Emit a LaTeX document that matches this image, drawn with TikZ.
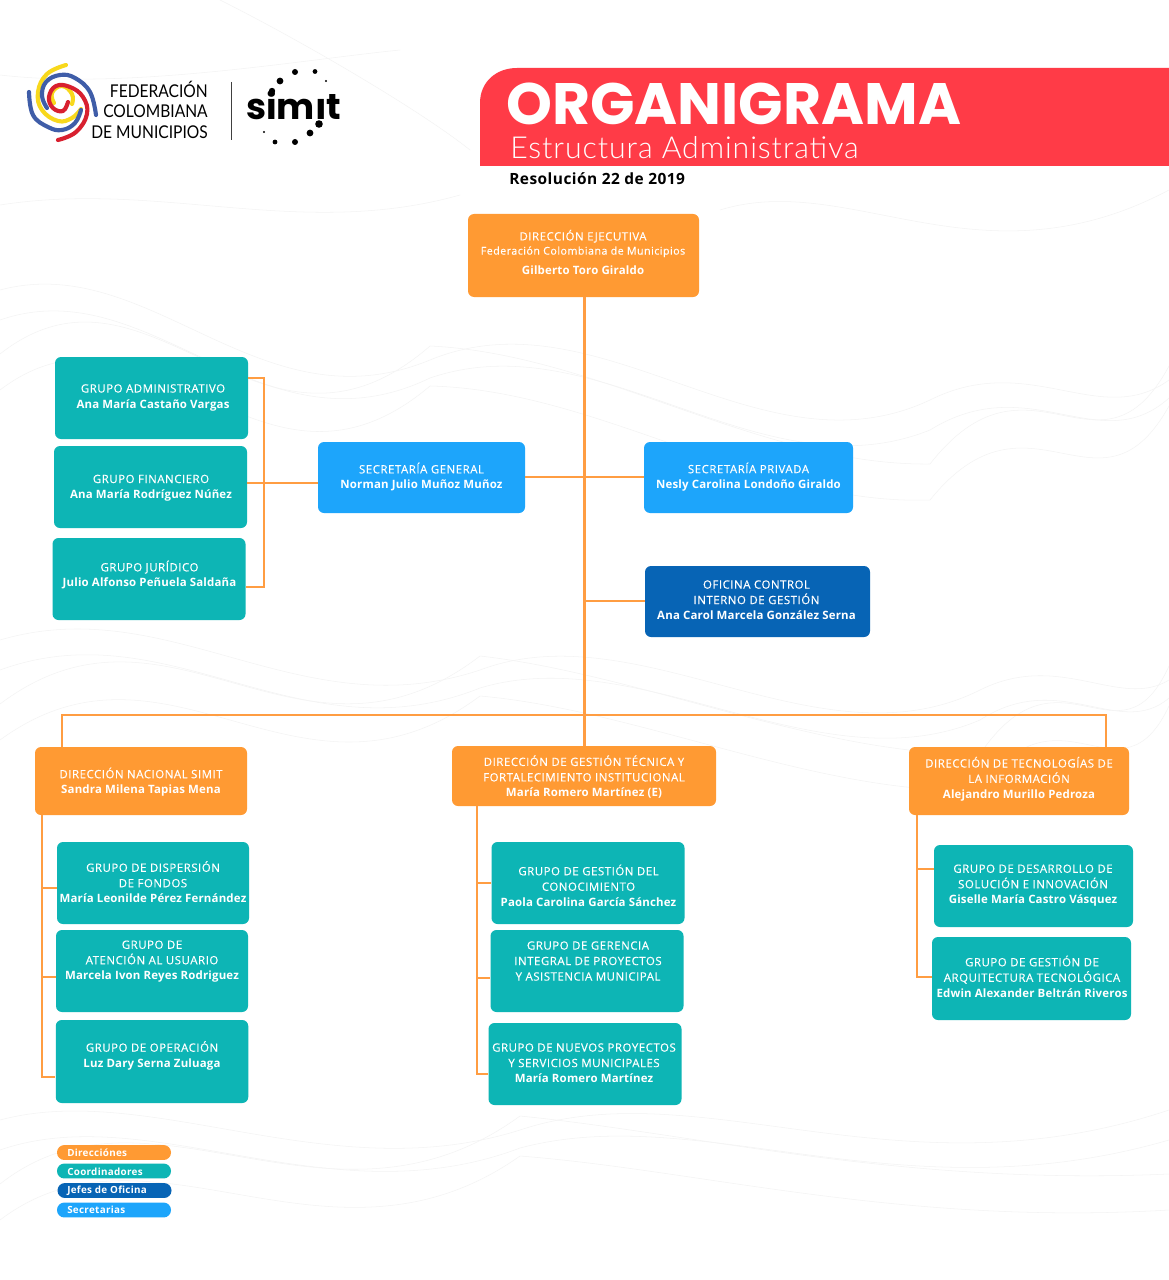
\documentclass[tikz,border=0pt]{standalone}
\usepackage{fontspec}
\setmainfont{Open Sans}[LetterSpace=3]
\newfontfamily\capfont{Open Sans}[LetterSpace=4.5,FakeBold=0.25]
\newfontfamily\namefont{Open Sans}[LetterSpace=1.5]
\newfontfamily\titlefont{Poppins}
\newfontfamily\lightfont{Lato Light}[LetterSpace=3]
\newfontfamily\logofont{Lato}[FakeStretch=0.885]
\newfontfamily\simitfont{Poppins}
\definecolor{orangeC}{HTML}{FF9A33}
\definecolor{tealC}{HTML}{0DB5B5}
\definecolor{blueC}{HTML}{1DA5FB}
\definecolor{navyC}{HTML}{0764B5}
\definecolor{redC}{HTML}{FF3B47}
\definecolor{lineC}{HTML}{FF9D42}
\definecolor{faintC}{HTML}{F4F4F4}
\definecolor{logoB}{HTML}{3F5DA8}
\definecolor{logoY}{HTML}{F8D81C}
\definecolor{logoR}{HTML}{D8202F}
\tikzset{
  boxbase/.style={rounded corners=4.5pt,inner sep=0pt,draw=none},
  orangebox/.style={boxbase,fill=orangeC},
  tealbox/.style={boxbase,fill=tealC},
  bluebox/.style={boxbase,fill=blueC},
  navybox/.style={boxbase,fill=navyC},
  boxtext/.style={text=white,align=center,font=\capfont\fontsize{8.6}{11.6}\selectfont,inner sep=0pt},
  link/.style={draw=lineC,line width=1.6pt},
  pill/.style={rounded corners=5.5pt,inner sep=0pt,minimum width=85.5pt,minimum height=11.2pt},
  pilltext/.style={anchor=west,text=white,font=\fontsize{7.4}{8}\selectfont\bfseries,inner sep=0pt},
  contour/.style={draw=faintC,line width=0.4pt},
  logoarc/.style={line width=3.1pt,line cap=round,line join=round},
  logotext/.style={anchor=east,inner sep=0pt,font=\logofont\fontsize{13.2}{15}\selectfont},
  spot/.style={circle,fill=black,inner sep=0pt}
}
\newcommand{\bx}[9]{%
  \node[#2,minimum width=#5*0.75pt,minimum height=#6*0.75pt] (#1) at (#3,#4) {};
  \node[boxtext] (#1T) at (#7,#8) {#9};
}
\newcommand{\nm}[1]{{\namefont\bfseries #1}}
\begin{document}
\begin{tikzpicture}[x=0.75pt,y=-0.75pt]
\useasboundingbox (0,0) rectangle (1169,1280);
\fill[white] (0,0) rectangle (1169,1280);
% faint background contours
\foreach \d/\e in {0/0,30/18,64/-14,100/26}{
  \draw[contour] (0,290+\d) .. controls (150,250+\e) and (260,430+\d) .. (430,360+\e) .. controls (600,290+\d) and (760,480+\e) .. (930,400+\d) .. controls (1030,350+\e) and (1100,430+\d) .. (1169,380+\e);
  \draw[contour] (0,640+\d) .. controls (170,590+\e) and (300,730+\d) .. (480,670+\e) .. controls (640,610+\d) and (820,770+\e) .. (980,690+\d) .. controls (1060,650+\e) and (1120,710+\d) .. (1169,680+\e);
  \draw[contour] (0,1120+\d) .. controls (150,1080+\e) and (330,1190+\d) .. (520,1130+\e) .. controls (700,1070+\d) and (900,1200+\e) .. (1169,1110+\d);
}
\draw[contour] (0,75) .. controls (130,90) and (300,60) .. (400,50);
\draw[contour] (220,0) .. controls (300,40) and (420,110) .. (470,150);
\draw[contour] (0,205) .. controls (160,180) and (300,240) .. (460,195);
\draw[contour] (720,210) .. controls (850,170) and (980,290) .. (1169,190);
% logo
\draw[logoarc,logoY] plot[smooth,tension=0.7] coordinates {(66,65) (47,74) (38,92) (42,110) (58,121) (72,118) (81,109)};
\draw[logoarc,logoY] plot[smooth,tension=0.8] coordinates {(54,103) (52,93) (62,86) (72,94) (72,104)};
\draw[logoarc,logoB] plot[smooth,tension=0.7] coordinates {(29,92) (33,115) (48,127) (62,130) (75,123) (81,110)};
\draw[logoarc,logoB] plot[smooth,tension=0.7] coordinates {(96,115) (90,92) (75,78) (60,75) (46,82) (42,96) (47,108)};
\draw[logoarc,logoR] plot[smooth,tension=0.7] coordinates {(58,140) (76,132) (87,114) (83,97) (70,87) (56,86) (49,97) (53,108) (63,111) (68,102)};
\node[logotext] (lg1) at (208,89.5) {FEDERACIÓN};
\node[logotext] (lg2) at (208,111.5) {COLOMBIANA};
\node[logotext] (lg3) at (208,132.5) {DE MUNICIPIOS};
\coordinate (sepA) at (231,82);
\coordinate (sepB) at (231,140);
\draw[black!75,line width=0.7pt] (sepA) -- (sepB);
\node[anchor=west,inner sep=0pt,font=\simitfont\fontsize{27}{30}\selectfont\bfseries] (simit) at (246,105) {simıt};
\foreach \x/\y/\r in {295/72/3,315/71.5/2.4,280/81/3.4,326/81/1.1,272/91/3.2,319/124/3.8,310/133/3.4,264/132/1.2,275/142/2.4,295/142/3}{
  \node[spot,minimum size=\r*1.5pt] at (\x,\y) {};
}
% banner
\fill[redC] (480,166) -- (480,103) .. controls (480,82) and (496,68) .. (517,68) -- (1169,68) -- (1169,166) -- cycle;
\node[anchor=west,inner sep=0pt,text=white,font=\titlefont\fontsize{43.8}{46}\selectfont\bfseries] (title) at (506,104) {ORGANIGRAMA};
\node[anchor=west,inner sep=0pt,text=white,font=\lightfont\fontsize{22.7}{24}\selectfont] (sub) at (510,148) {Estructura Administrativa};
\node[anchor=west,inner sep=0pt,text=black,font=\fontsize{11.6}{13}\selectfont\bfseries] (res) at (509,179) {Resolución 22 de 2019};
% boxes
\bx{dirEj}{orangebox}{583.5}{255.5}{231}{83}{583}{252}{DIRECCIÓN EJECUTIVA\\[-1pt]{\fontsize{8}{11}\selectfont Federación Colombiana de Municipios}\\[3pt]\nm{Gilberto Toro Giraldo}}
\bx{gAdm}{tealbox}{151.5}{398}{193}{82}{153}{397.5}{GRUPO ADMINISTRATIVO\\\nm{Ana María Castaño Vargas}}
\bx{gFin}{tealbox}{150.5}{487}{193}{82}{151}{488}{GRUPO FINANCIERO\\\nm{Ana María Rodríguez Núñez}}
\bx{gJur}{tealbox}{149}{579}{193}{82}{149.5}{575}{GRUPO JURÍDICO\\\nm{Julio Alfonso Peñuela Saldaña}}
\bx{secG}{bluebox}{421.5}{477.5}{207}{71}{421.5}{477}{SECRETARÍA GENERAL\\\nm{Norman Julio Muñoz Muñoz}}
\bx{secP}{bluebox}{748.5}{477.5}{209}{71}{748.5}{477}{SECRETARÍA PRIVADA\\\nm{Nesly Carolina Londoño Giraldo}}
\bx{ofC}{navybox}{757.5}{601.5}{225}{71}{756.5}{600}{OFICINA CONTROL\\INTERNO DE GESTIÓN\\\nm{Ana Carol Marcela González Serna}}
\bx{dirN}{orangebox}{141}{781}{212}{68}{141}{782}{DIRECCIÓN NACIONAL SIMIT\\\nm{Sandra Milena Tapias Mena}}
\bx{dirG}{orangebox}{584}{776}{264}{60}{584}{777}{DIRECCIÓN DE GESTIÓN TÉCNICA Y\\FORTALECIMIENTO INSTITUCIONAL\\\nm{María Romero Martínez (E)}}
\bx{dirT}{orangebox}{1019}{781}{220}{68}{1019}{779}{DIRECCIÓN DE TECNOLOGÍAS DE\\LA INFORMACIÓN\\\nm{Alejandro Murillo Pedroza}}
\bx{gDis}{tealbox}{153}{883}{192}{82}{153}{882}{GRUPO DE DISPERSIÓN\\DE FONDOS\\\nm{María Leonilde Pérez Fernández}}
\bx{gAte}{tealbox}{152}{971}{192}{82}{152}{961.5}{GRUPO DE\\ATENCIÓN AL USUARIO\\\nm{Marcela Ivon Reyes Rodriguez}}
\bx{gOpe}{tealbox}{152}{1061.5}{192.5}{83}{152}{1055.5}{GRUPO DE OPERACIÓN\\\nm{Luz Dary Serna Zuluaga}}
\bx{gCon}{tealbox}{588}{883}{193}{82}{588.5}{885.5}{GRUPO DE GESTIÓN DEL\\CONOCIMIENTO\\\nm{Paola Carolina García Sánchez}}
\bx{gGer}{tealbox}{587}{971}{193}{82}{588}{961}{GRUPO DE GERENCIA\\INTEGRAL DE PROYECTOS\\Y ASISTENCIA MUNICIPAL}
\bx{gNue}{tealbox}{585}{1064}{193}{82}{584}{1063}{GRUPO DE NUEVOS PROYECTOS\\Y SERVICIOS MUNICIPALES\\\nm{María Romero Martínez}}
\bx{gDes}{tealbox}{1033.5}{886}{199}{82}{1033}{885.5}{GRUPO DE DESARROLLO DE\\SOLUCIÓN E INNOVACIÓN\\\nm{Giselle María Castro Vásquez}}
\bx{gArq}{tealbox}{1031.5}{978.5}{199}{83}{1032}{976.5}{GRUPO DE GESTIÓN DE\\ARQUITECTURA TECNOLÓGICA\\\nm{Edwin Alexander Beltrán Riveros}}
% connector anchors
\coordinate (tk) at (584.5,715);
\coordinate (lf) at (62,715);
\coordinate (rt) at (1106,715);
\coordinate (br) at (264,483);
\coordinate (sL) at (42,888);
\coordinate (sLb) at (42,977);
\coordinate (sLc) at (42,1077);
\coordinate (sM) at (477,883);
\coordinate (sMb) at (477,978);
\coordinate (sMc) at (477,1074);
\coordinate (sR) at (917,869);
\coordinate (sRb) at (917,977);
\coordinate (pA) at (264,378);
\coordinate (pC) at (264,587);
\coordinate (pS) at (584.5,477);
\coordinate (pO) at (584.5,601);
\draw[link] (tk |- dirEj.south) -- (tk |- dirG.north);
\draw[link] (lf |- dirN.north) -- (lf) -- (rt) -- (rt |- dirT.north);
\draw[link] (secG.east |- pS) -- (secP.west |- pS);
\draw[link] (pO) -- (ofC.west |- pO);
\draw[link] (gAdm.east |- pA) -- (pA) -- (pC) -- (gJur.east |- pC);
\draw[link] (gFin.east |- br) -- (secG.west |- br);
\draw[link] (sL |- dirN.south) -- (sLc) -- (gOpe.west |- sLc);
\draw[link] (sL) -- (gDis.west |- sL);
\draw[link] (sLb) -- (gAte.west |- sLb);
\draw[link] (sM |- dirG.south) -- (sMc) -- (gNue.west |- sMc);
\draw[link] (sM) -- (gCon.west |- sM);
\draw[link] (sMb) -- (gGer.west |- sMb);
\draw[link] (sR |- dirT.south) -- (sRb) -- (gArq.west |- sRb);
\draw[link] (sR) -- (gDes.west |- sR);
% legend
\node[pill,fill=orangeC] (lgA) at (114,1152.5) {};
\node[pill,fill=tealC] (lgB) at (114,1171) {};
\node[pill,fill=navyC] (lgC) at (114.5,1190.5) {};
\node[pill,fill=blueC] (lgD) at (114,1210) {};
\node[pilltext] (lgAT) at (67,1152.5) {Direcciónes};
\node[pilltext] (lgBT) at (67,1171.5) {Coordinadores};
\node[pilltext] (lgCT) at (67,1190.5) {Jefes de Oficina};
\node[pilltext] (lgDT) at (67,1210) {Secretarias};
\end{tikzpicture}
\end{document}
